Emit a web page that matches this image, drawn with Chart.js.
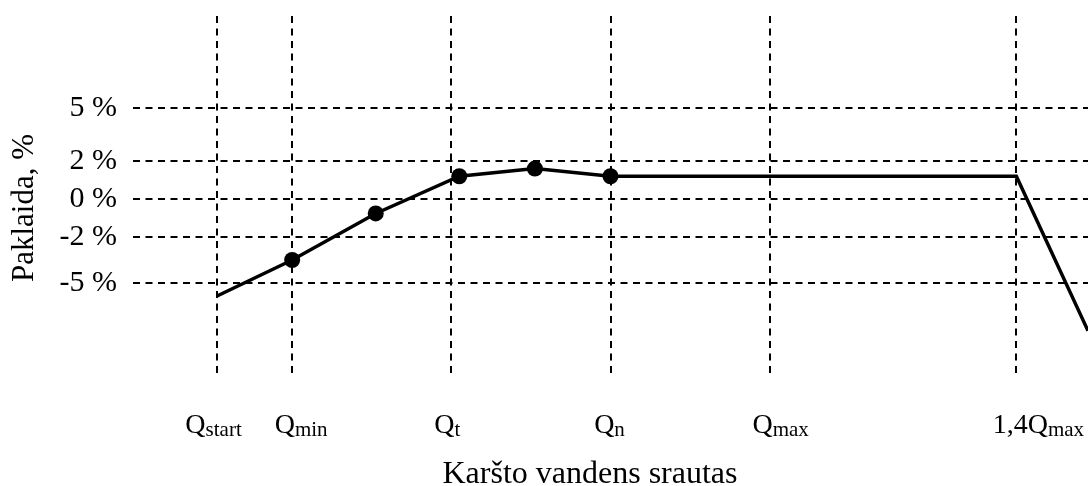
<!DOCTYPE html>
<html>
<head>
<meta charset="utf-8">
<script src="https://cdn.jsdelivr.net/npm/chart.js@4"></script>
<style>
  html, body { margin: 0; padding: 0; background: #fff; }
  canvas { display: block; }
</style>
</head>
<body>
<canvas id="chart" width="1088" height="486"></canvas>
<script>
// Characteristic flow rates along the horizontal axis
const flowTicks = [1.05, 2, 4, 6, 8, 11.1];
const flowTickMain = ['Q', 'Q', 'Q', 'Q', 'Q', '1,4Q'];
const flowTickSub = ['start', 'min', 't', 'n', 'max', 'max'];

// Meter error curve
const curveFlow = [1.05, 2, 3.05, 4.1, 5.05, 6, 11.1, 12];
const curveError = [-5.9, -3.5, -0.75, 1.2, 1.6, 1.2, 1.2, -8.2];
const curveMeasured = [false, true, true, true, true, true, false, false];

// Error levels marked on the vertical axis, %
const errorTicks = [5, 2, 0, -2, -5];

const xTitle = 'Karšto vandens srautas';
const yTitle = 'Paklaida, %';

// The error axis is schematic: every band between marked levels gets its own
// share of the plot height ([value, fraction of height from the bottom]).
const errorBands = [[-11, 0], [-5, 0.253], [-2, 0.380], [0, 0.487], [2, 0.594], [5, 0.743], [10.2, 1]];

function bandDecimal(v) {
  const b = errorBands;
  let i = 0;
  while (i < b.length - 2 && v > b[i + 1][0]) i++;
  const [v0, d0] = b[i], [v1, d1] = b[i + 1];
  return d0 + (v - v0) * (d1 - d0) / (v1 - v0);
}
function bandValue(d) {
  const b = errorBands;
  let i = 0;
  while (i < b.length - 2 && d > b[i + 1][1]) i++;
  const [v0, d0] = b[i], [v1, d1] = b[i + 1];
  return v0 + (d - d0) * (v1 - v0) / (d1 - d0);
}

class BandedScale extends Chart.LinearScale {
  static id = 'banded';
  static defaults = {};
  getPixelForValue(value) {
    return this.getPixelForDecimal(bandDecimal(value));
  }
  getValueForPixel(pixel) {
    return bandValue(this.getDecimalForPixel(pixel));
  }
}
Chart.register(BandedScale);

const SERIF = '"Liberation Serif", "Times New Roman", serif';
const flowLabelNudge = [-3, 9, -4, -1, 11, 22];

// Flow labels with subscripts and the two axis titles
const axisText = {
  id: 'axisText',
  afterDraw(chart) {
    const { ctx, scales: { x } } = chart;
    ctx.save();
    ctx.fillStyle = '#000';
    ctx.textBaseline = 'alphabetic';
    ctx.textAlign = 'left';
    const mainFont = '28px ' + SERIF;
    const subFont = '21px ' + SERIF;
    flowTicks.forEach((v, i) => {
      ctx.font = mainFont;
      const wMain = ctx.measureText(flowTickMain[i]).width;
      ctx.font = subFont;
      const wSub = ctx.measureText(flowTickSub[i]).width;
      const left = x.getPixelForValue(v) - (wMain + wSub) / 2 + flowLabelNudge[i];
      ctx.font = mainFont;
      ctx.fillText(flowTickMain[i], left, 433);
      ctx.font = subFont;
      ctx.fillText(flowTickSub[i], left + wMain, 436);
    });

    ctx.textAlign = 'center';
    ctx.font = '32px ' + SERIF;
    ctx.fillText(xTitle, 590, 483);

    ctx.translate(33, 208);
    ctx.rotate(-Math.PI / 2);
    ctx.font = '31px ' + SERIF;
    ctx.fillText(yTitle, 0, 0);
    ctx.restore();
  }
};

const gridStyle = { color: '#000', lineWidth: 2, drawTicks: false };
const dashStyle = { display: false, dash: [7, 5.5] };

new Chart(document.getElementById('chart'), {
  type: 'line',
  data: {
    datasets: [{
      data: curveFlow.map((f, i) => ({ x: f, y: curveError[i] })),
      borderColor: '#000',
      backgroundColor: '#000',
      borderWidth: 3.5,
      pointRadius: curveMeasured.map(m => (m ? 8 : 0)),
      pointHoverRadius: 0,
      pointBorderWidth: 0,
      tension: 0,
      fill: false
    }]
  },
  options: {
    responsive: false,
    animation: false,
    events: [],
    layout: { padding: { top: 16, right: 0, bottom: 0, left: 0 } },
    plugins: { legend: { display: false }, tooltip: { enabled: false } },
    scales: {
      x: {
        type: 'linear',
        min: 0,
        max: 12,
        grid: gridStyle,
        border: dashStyle,
        ticks: { display: false },
        afterBuildTicks: s => { s.ticks = flowTicks.map(v => ({ value: v })); },
        afterFit: s => { s.height = 113; s.paddingLeft = 0; s.paddingRight = 0; }
      },
      y: {
        type: 'banded',
        min: -11,
        max: 10.2,
        grid: gridStyle,
        border: dashStyle,
        ticks: {
          color: '#000',
          padding: 16,
          font: { family: SERIF, size: 30 },
          callback: v => v + ' %'
        },
        afterBuildTicks: s => { s.ticks = errorTicks.map(v => ({ value: v })); },
        afterFit: s => { s.width = 133; s.paddingTop = 0; s.paddingBottom = 0; }
      }
    }
  },
  plugins: [axisText]
});
</script>
</body>
</html>
